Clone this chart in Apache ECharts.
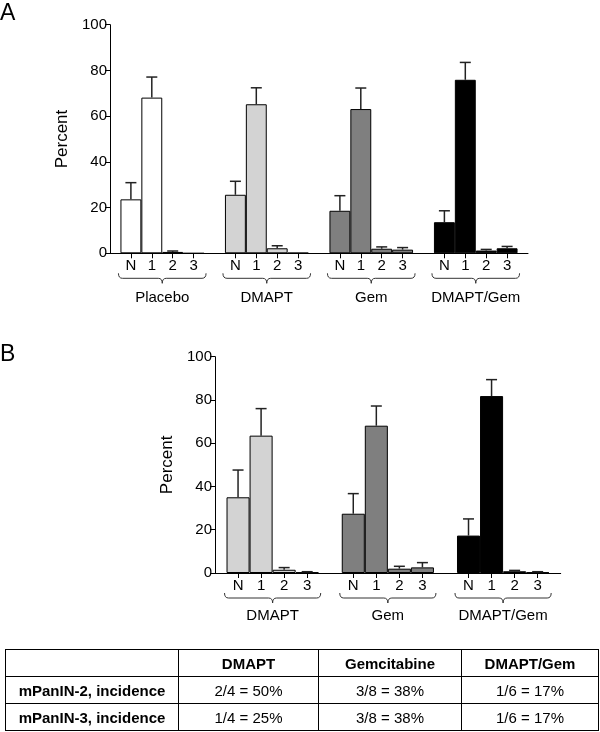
<!DOCTYPE html>
<html>
<head>
<meta charset="utf-8">
<script src="https://cdn.jsdelivr.net/npm/echarts@6/dist/echarts.min.js"></script>
<style>
  html, body { margin: 0; padding: 0; background: #fff; }
  #chart { position: absolute; left: 0; top: 0; width: 600px; height: 732px; }
  #tbl { position: absolute; left: 5px; top: 649px; width: 593px; border-collapse: collapse;
         font-family: "Liberation Sans", Arial, sans-serif; font-size: 15px; color: #000; table-layout: fixed; }
  #tbl td { border: 1px solid #000; text-align: center; padding: 0; height: 26px; }
  #tbl th { border: 1px solid #000; text-align: center; padding: 0; height: 26px; font-weight: bold; }
  #tbl td.rowh { font-weight: bold; }
</style>
</head>
<body>
<div id="chart"></div>
<table id="tbl">
  <colgroup><col style="width:173px"><col style="width:140px"><col style="width:143px"><col style="width:137px"></colgroup>
  <thead><tr id="thead"></tr></thead>
  <tbody id="tbody"></tbody>
</table>
<script>
// ---------- data ----------
const grades = ['N', '1', '2', '3'];

// Panel A
const groupsA = ['Placebo', 'DMAPT', 'Gem', 'DMAPT/Gem'];
const colorsA = ['#ffffff', '#d3d3d3', '#7f7f7f', '#000000'];
const placeboA = [23.6, 68.1, 0.6, 0];
const placeboErrA = [7.3, 9.0, 0.4, 0];
const dmaptA = [25.6, 65.2, 2.2, 0.2];
const dmaptErrA = [5.9, 7.2, 1.1, 0];
const gemA = [18.6, 63.1, 2.0, 1.6];
const gemErrA = [6.6, 9.2, 0.8, 0.9];
const comboA = [13.6, 75.9, 1.2, 2.2];
const comboErrA = [5.0, 7.6, 0.5, 0.8];

// Panel B
const groupsB = ['DMAPT', 'Gem', 'DMAPT/Gem'];
const colorsB = ['#d3d3d3', '#7f7f7f', '#000000'];
const dmaptB = [35.0, 63.5, 1.5, 0.3];
const dmaptErrB = [12.6, 12.5, 1.0, 0.3];
const gemB = [27.4, 68.1, 2.0, 2.6];
const gemErrB = [9.3, 9.1, 1.1, 2.2];
const comboB = [17.3, 81.8, 0.8, 0.3];
const comboErrB = [7.7, 7.6, 0.4, 0.3];

const yTicks = [0, 20, 40, 60, 80, 100];

// Table
const tableCols = ['', 'DMAPT', 'Gemcitabine', 'DMAPT/Gem'];
const tableRowNames = ['mPanIN-2, incidence', 'mPanIN-3, incidence'];
const tableRow1 = ['2/4 = 50%', '3/8 = 38%', '1/6 = 17%'];
const tableRow2 = ['1/4 = 25%', '3/8 = 38%', '1/6 = 17%'];

// ---------- build ----------
const FONT = '"Liberation Sans", Arial, sans-serif';

function buildPanel(groups, colors, means, errs) {
  const cats = [];
  const bars = [];
  const errData = [];
  const brackets = [];
  cats.push('gap0');
  bars.push('-');
  groups.forEach((g, gi) => {
    const start = cats.length;
    grades.forEach((gr, k) => {
      const idx = cats.length;
      cats.push(g + '|' + gr);
      bars.push({ value: means[gi][k], itemStyle: { color: colors[gi] } });
      errData.push([idx, means[gi][k], errs[gi][k]]);
    });
    brackets.push([start, cats.length - 1, gi]);
    cats.push('gap' + (gi + 1));
    bars.push('-');
  });
  return { cats, bars, errData, brackets };
}

const pA = buildPanel(groupsA, colorsA, [placeboA, dmaptA, gemA, comboA], [placeboErrA, dmaptErrA, gemErrA, comboErrA]);
const pB = buildPanel(groupsB, colorsB, [dmaptB, gemB, comboB], [dmaptErrB, gemErrB, comboErrB]);

function xAxisFor(gridIndex, cats) {
  return {
    type: 'category', gridIndex, data: cats, boundaryGap: false,
    axisLine: { lineStyle: { color: '#000', width: 1 } },
    axisTick: { length: 5, lineStyle: { color: '#000' }, interval: (i, v) => v.indexOf('|') >= 0 },
    axisLabel: { interval: 0, margin: 5, fontFamily: FONT, fontSize: 15, color: '#000',
                 formatter: v => (v.indexOf('|') >= 0 ? v.split('|')[1] : '') },
    splitLine: { show: false }
  };
}
function yAxisFor(gridIndex) {
  return {
    type: 'value', gridIndex, min: yTicks[0], max: yTicks[yTicks.length - 1], interval: yTicks[1] - yTicks[0],
    name: 'Percent', nameLocation: 'middle', nameGap: 38, nameRotate: 90,
    nameTextStyle: { fontFamily: FONT, fontSize: 17, color: '#000' },
    axisLine: { show: true, lineStyle: { color: '#000', width: 1 } },
    axisTick: { show: true, length: 5, lineStyle: { color: '#000' } },
    axisLabel: { margin: 3, fontFamily: FONT, fontSize: 15, color: '#000' },
    splitLine: { show: false }
  };
}

function errSeries(idx, data) {
  return {
    type: 'custom', xAxisIndex: idx, yAxisIndex: idx, data, clip: false, z: 5,
    encode: { x: 0, y: 1 },
    renderItem: (params, api) => {
      const i = api.value(0), m = api.value(1), e = api.value(2);
      if (!(e > 0)) return null;
      const p0 = api.coord([i, m]);
      const p1 = api.coord([i, m + e]);
      const style = { stroke: '#222', lineWidth: 1.5 };
      return { type: 'group', children: [
        { type: 'line', shape: { x1: p0[0], y1: p0[1], x2: p1[0], y2: p1[1] }, style },
        { type: 'line', shape: { x1: p1[0] - 5.5, y1: p1[1], x2: p1[0] + 5.5, y2: p1[1] }, style }
      ] };
    }
  };
}

function bracketSeries(idx, data, groups, labelGap) {
  return {
    type: 'custom', xAxisIndex: idx, yAxisIndex: idx, data, clip: false, silent: true,
    encode: { x: [0, 1], y: 2 },
    renderItem: (params, api) => {
      const a = api.coord([api.value(0), 0]);
      const b = api.coord([api.value(1), 0]);
      const bw = Math.abs(api.coord([api.value(0) + 1, 0])[0] - a[0]);
      const x0 = a[0] - bw / 2 - 2, x1 = b[0] + bw / 2 + 2;
      const y = a[1] + 25;
      const mid = (x0 + x1) / 2;
      const r = 4;
      const path = 'M' + x0 + ',' + (y - 5) + ' Q' + x0 + ',' + y + ' ' + (x0 + r) + ',' + y +
        ' L' + (mid - r) + ',' + y + ' Q' + mid + ',' + y + ' ' + mid + ',' + (y + 5) +
        ' Q' + mid + ',' + y + ' ' + (mid + r) + ',' + y +
        ' L' + (x1 - r) + ',' + y + ' Q' + x1 + ',' + y + ' ' + x1 + ',' + (y - 5);
      return { type: 'group', children: [
        { type: 'path', shape: { pathData: path }, style: { stroke: '#333', lineWidth: 1, fill: null } },
        { type: 'text', x: mid, y: a[1] + labelGap,
          style: { text: groups[api.value(2)], align: 'center', verticalAlign: 'middle',
                   font: '15px ' + FONT, fill: '#000' } }
      ] };
    }
  };
}

function barSeries(idx, data) {
  return {
    type: 'bar', xAxisIndex: idx, yAxisIndex: idx, data, barWidth: '100%',
    itemStyle: { borderColor: '#000', borderWidth: 1 }, z: 3
  };
}

const chart = echarts.init(document.getElementById('chart'), null, { renderer: 'canvas' });
chart.setOption({
  animation: false,
  backgroundColor: '#fff',
  title: [
    { text: 'A', left: 0, top: 2, padding: 0, textStyle: { fontFamily: FONT, fontSize: 23, fontWeight: 'normal', color: '#000' } },
    { text: 'B', left: 0, top: 343, padding: 0, textStyle: { fontFamily: FONT, fontSize: 23, fontWeight: 'normal', color: '#000' } }
  ],
  grid: [
    { left: 110, top: 24.7, width: 418, height: 228.6 },
    { left: 215, top: 356.7, width: 345.7, height: 216.3 }
  ],
  xAxis: [xAxisFor(0, pA.cats), xAxisFor(1, pB.cats)],
  yAxis: [yAxisFor(0), yAxisFor(1)],
  series: [
    barSeries(0, pA.bars), errSeries(0, pA.errData), bracketSeries(0, pA.brackets, groupsA, 45),
    barSeries(1, pB.bars), errSeries(1, pB.errData), bracketSeries(1, pB.brackets, groupsB, 43)
  ]
});

// table
const thead = document.getElementById('thead');
tableCols.forEach(c => { const th = document.createElement('th'); th.textContent = c; thead.appendChild(th); });
const tbody = document.getElementById('tbody');
[tableRow1, tableRow2].forEach((row, ri) => {
  const tr = document.createElement('tr');
  const h = document.createElement('td'); h.className = 'rowh'; h.textContent = tableRowNames[ri]; tr.appendChild(h);
  row.forEach(v => { const td = document.createElement('td'); td.textContent = v; tr.appendChild(td); });
  tbody.appendChild(tr);
});
</script>
</body>
</html>
